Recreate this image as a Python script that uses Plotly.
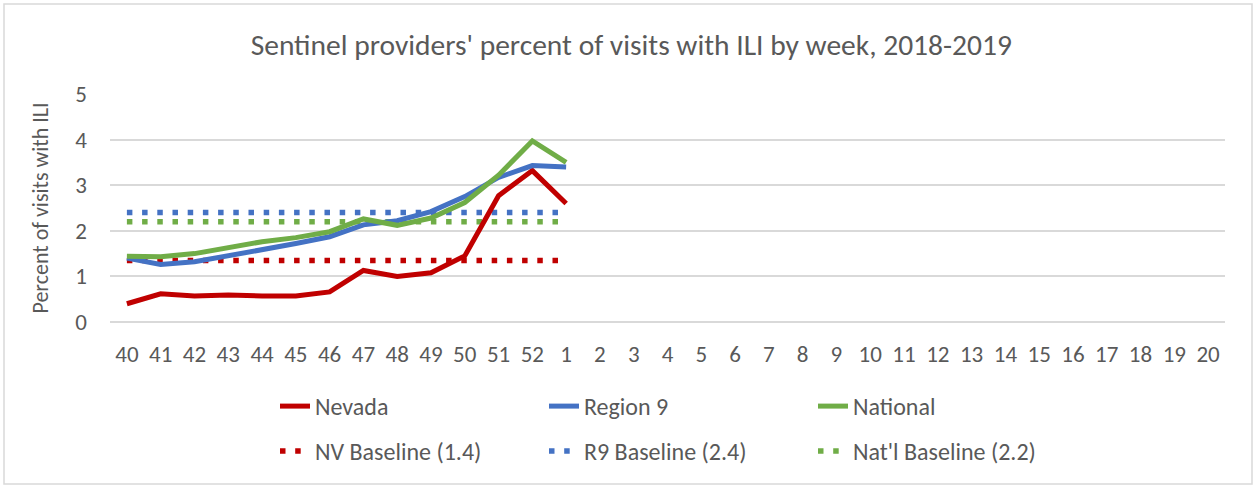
import plotly.graph_objects as go

weeks = ["40", "41", "42", "43", "44", "45", "46", "47", "48", "49", "50", "51", "52",
         "1", "2", "3", "4", "5", "6", "7", "8", "9", "10", "11", "12", "13", "14",
         "15", "16", "17", "18", "19", "20"]
weeks_reported = ["40", "41", "42", "43", "44", "45", "46", "47", "48", "49", "50", "51", "52", "1"]

nevada = [0.40, 0.62, 0.57, 0.59, 0.57, 0.57, 0.66, 1.13, 1.00, 1.08, 1.45, 2.77, 3.32, 2.60]
region9 = [1.40, 1.26, 1.32, 1.45, 1.60, 1.72, 1.87, 2.13, 2.22, 2.42, 2.75, 3.17, 3.43, 3.40]
national = [1.44, 1.43, 1.50, 1.64, 1.76, 1.85, 1.98, 2.26, 2.12, 2.28, 2.62, 3.22, 3.97, 3.50]

nv_baseline = [1.35, 1.35, 1.35, 1.35, 1.35, 1.35, 1.35, 1.35, 1.35, 1.35, 1.35, 1.35, 1.35, 1.35]
r9_baseline = [2.4, 2.4, 2.4, 2.4, 2.4, 2.4, 2.4, 2.4, 2.4, 2.4, 2.4, 2.4, 2.4, 2.4]
nat_baseline = [2.2, 2.2, 2.2, 2.2, 2.2, 2.2, 2.2, 2.2, 2.2, 2.2, 2.2, 2.2, 2.2, 2.2]

RED = "#C00000"
BLUE = "#4472C4"
GREEN = "#70AD47"
TXT = "#595959"
GRID = "#D9D9D9"
FONT = "Carlito, Calibri, Lato, sans-serif"
DOT = "5.5px,9.7px"

fig = go.Figure()
# baselines (drawn first, under solid lines)
fig.add_trace(go.Scatter(x=weeks_reported, y=nv_baseline, name="NV Baseline (1.4)", mode="lines",
                         line=dict(color=RED, width=5.5, dash=DOT), legend="legend2"))
fig.add_trace(go.Scatter(x=weeks_reported, y=r9_baseline, name="R9 Baseline (2.4)", mode="lines",
                         line=dict(color=BLUE, width=5.5, dash=DOT), legend="legend2"))
fig.add_trace(go.Scatter(x=weeks_reported, y=nat_baseline, name="Nat'l Baseline (2.2)", mode="lines",
                         line=dict(color=GREEN, width=5.5, dash=DOT), legend="legend2"))
fig.add_trace(go.Scatter(x=weeks_reported, y=nevada, name="Nevada", mode="lines",
                         line=dict(color=RED, width=5), legend="legend"))
fig.add_trace(go.Scatter(x=weeks_reported, y=region9, name="Region 9", mode="lines",
                         line=dict(color=BLUE, width=5), legend="legend"))
fig.add_trace(go.Scatter(x=weeks_reported, y=national, name="National", mode="lines",
                         line=dict(color=GREEN, width=5), legend="legend"))

L, R, T, B = 110, 30, 94, 165
W, H = 1255, 487
pw, ph = W - L - R, H - T - B

def px_x(x):
    return (x - L) / pw

def px_y(y):
    return (H - B - y) / ph

legend_common = dict(orientation="h", xanchor="left", yanchor="middle",
                     font=dict(family=FONT, size=24, color=TXT),
                     bgcolor="rgba(0,0,0,0)", entrywidth=224, entrywidthmode="pixels",
                     traceorder="normal", itemwidth=30)

fig.update_layout(
    width=W, height=H,
    margin=dict(l=L, r=R, t=T, b=B),
    paper_bgcolor="white", plot_bgcolor="white",
    font=dict(family=FONT, color=TXT, size=23),
    title=dict(text="Sentinel providers' percent of visits with ILI by week, 2018-2019",
               x=0.503, xref="container", xanchor="center",
               y=1 - 45 / H, yref="container", yanchor="middle",
               font=dict(family=FONT, size=29.5, color=TXT)),
    xaxis=dict(type="category", categoryorder="array", categoryarray=weeks,
               range=[-0.5, len(weeks) - 0.5], showgrid=False, showline=False,
               zeroline=False, ticks="", ticklabelstandoff=16,
               tickfont=dict(family=FONT, size=23, color=TXT)),
    yaxis=dict(range=[0, 5], dtick=1, showgrid=True, gridcolor=GRID, gridwidth=1.5,
               zeroline=True, zerolinecolor=GRID, zerolinewidth=1.5,
               showline=False, ticks="", ticklabelstandoff=22,
               tickfont=dict(family=FONT, size=23, color=TXT),
               title=dict(text="Percent of visits with ILI", standoff=20,
                          font=dict(family=FONT, size=22, color=TXT))),
    legend=dict(x=px_x(275), y=px_y(406.5), **legend_common),
    legend2=dict(x=px_x(275), y=px_y(451.5), **legend_common),
    shapes=[dict(type="rect", xref="paper", yref="paper",
                 x0=px_x(4), x1=px_x(1252), y0=px_y(484), y1=px_y(4),
                 line=dict(color=GRID, width=1.5), fillcolor="rgba(0,0,0,0)", layer="below")],
)

fig.write_html("out.html", config={"displayModeBar": False},
               post_script="document.body.style.margin='0px';")
